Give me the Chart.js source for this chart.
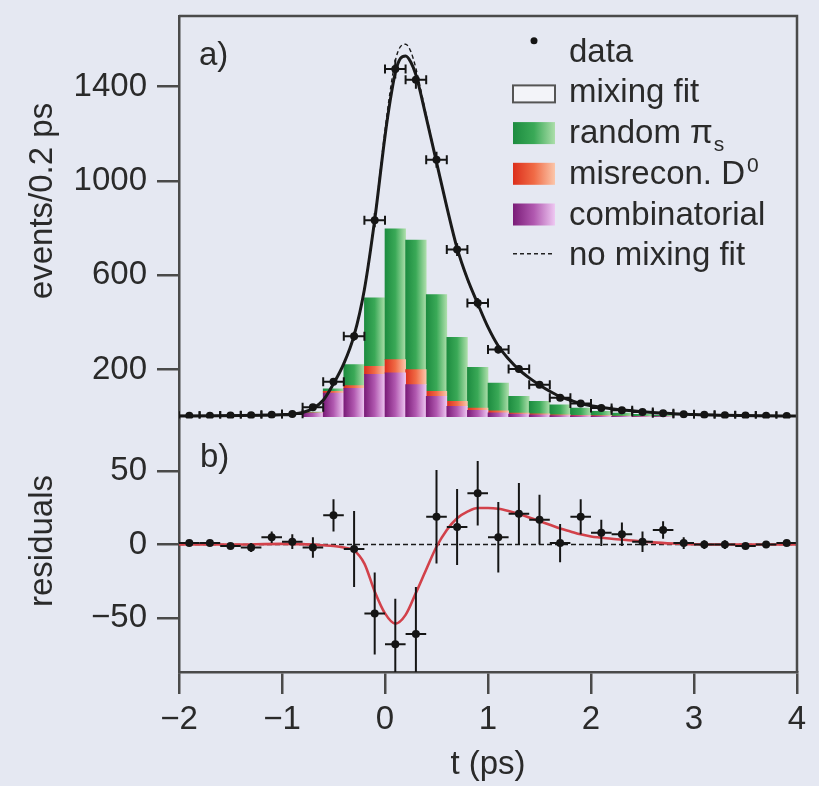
<!DOCTYPE html>
<html>
<head>
<meta charset="utf-8">
<title>Decay-time distribution and residuals</title>
<script src="https://cdn.jsdelivr.net/npm/chart.js@4.4.1/dist/chart.umd.min.js"></script>
<style>
  html, body { margin: 0; padding: 0; background: #e5e8f2; }
  #plot { display: block; }
</style>
</head>
<body>
<canvas id="plot" width="819" height="786"></canvas>
<script>
// ---- data -------------------------------------------------------------
const binWidth = 0.2;   // ps per bin

const binCentres = [-1.9,-1.7,-1.5,-1.3,-1.1,-0.9,-0.7,-0.5,-0.3,-0.1,0.1,0.3,0.5,0.7,0.9,
                    1.1,1.3,1.5,1.7,1.9,2.1,2.3,2.5,2.7,2.9,3.1,3.3,3.5,3.7,3.9];
const eventCounts = [4,4,5,6,8,12,40,148,341,834,1475,1430,1090,709,482,
                     285,203,136,80,56,37,28,20,15,11,8,6,5,4,3];
const eventErrors = [2,2,2,3,3,4,7,13,19,30,40,39,34,27,22,
                     17,14,12,9,8,6,5,5,4,3,3,3,2,2,2];
const residuals = [1,1,-1,-2,5,2,-2,20,-3,-47,-68,-61,19,12,35,
                   5,21,17,1,19,8,7,2,10,1,0,0,-1,0,1];
const residualErrors = [2,2,2,3,4,5,7,11,26,28,31,32,32,26,22,
                        24,21,17,13,12,9,8,7,6,4,3,3,2,2,2];

// background components (stacked)
const bkgCentres = [-0.7,-0.5,-0.3,-0.1,0.1,0.3,0.5,0.7,0.9,1.1,1.3,1.5,1.7,1.9,2.1,2.3,2.5,2.7];
const combinatorial = [15,100,120,180,186,136,87,44,27,17,11,8,5,4,3,2,1,1];
const misreconD0 = [2,8,12,34,56,64,21,21,10,8,5,4,3,2,2,1,1,0];
const randomPiS = [3,10,89,290,555,549,410,272,173,118,71,53,43,31,18,12,8,5];

// fit curves
const fitTimes = [-2,-1.6,-1.2,-1,-0.9,-0.8,-0.7,-0.6,-0.5,-0.4,-0.3,-0.2,-0.1,0,0.05,0.1,0.15,0.2,0.25,0.3,
                  0.4,0.5,0.6,0.7,0.8,0.9,1,1.1,1.2,1.3,1.4,1.5,1.6,1.7,1.8,1.9,2,2.2,2.4,2.6,2.8,3,3.3,3.6,4];
const mixingFit = [3,4,6,8,11,18,35,70,140,225,345,540,835,1190,1340,1460,1520,1530,1505,1450,
                   1270,1080,890,715,585,480,380,300,245,200,165,135,108,85,70,56,47,34,25,18,13,9,6,4,3];
const noMixingFit = [3,4,6,8,11,18,35,70,140,225,345,542,842,1215,1380,1510,1570,1580,1550,1478,
                     1280,1082,888,712,582,478,378,298,244,200,165,135,108,85,70,56,47,34,25,18,13,9,6,4,3];
const diffTimes = [-2,-1.5,-1,-0.8,-0.6,-0.5,-0.4,-0.3,-0.2,-0.1,0,0.1,0.2,0.3,0.4,0.5,0.6,0.7,0.8,0.9,
                   1,1.1,1.2,1.3,1.4,1.5,1.6,1.7,1.8,1.9,2,2.2,2.4,2.6,2.8,3,3.5,4];
const fitDifference = [0,0,0.5,0.3,-0.5,-1,-2,-4,-13,-32,-47,-54,-48,-33,-17,-1.5,10,18,22.5,25,
                       25,24.5,23,21,18.5,16,13.5,11,9,7,5.5,4,2.8,1.5,0.7,0.2,0,0];

// axis ticks
const timeTicks = [-2,-1,0,1,2,3,4];
const eventTicks = [200,600,1000,1400];
const residualTicks = [-50,0,50];

// ---- style ------------------------------------------------------------
const FONT = '"Liberation Sans", Arial, Helvetica, sans-serif';
const INK = '#2a2a2a';
const AXIS = '#4a4a4a';
const BG = '#e5e8f2';
const FS = 33;

const fills = {
  green:  ['#1d8c40', '#3aa957', '#acdeaa'],
  red:    ['#dc2f1c', '#f06b46', '#fbc6aa'],
  purple: ['#7a1c78', '#b159b0', '#eec8f2']
};

const pairs = (xs, ys) => xs.map((x, i) => ({ x, y: ys[i] }));
const minus = v => (v < 0 ? '\u2212' + Math.abs(v) : String(v));

function gradientFor(ctx, l, r, stops) {
  const g = ctx.createLinearGradient(l, 0, r, 0);
  g.addColorStop(0, stops[0]);
  g.addColorStop(0.5, stops[1]);
  g.addColorStop(1, stops[2]);
  return g;
}

function barFill(stops) {
  return (c) => {
    const chart = c.chart;
    if (!chart.chartArea || c.type !== 'data' || !c.raw) return stops[1];
    const xs = chart.scales.x;
    const l = xs.getPixelForValue(c.raw.x - binWidth / 2);
    const r = xs.getPixelForValue(c.raw.x + binWidth / 2);
    return gradientFor(chart.ctx, l, r, stops);
  };
}

// ---- plugins ----------------------------------------------------------
const paperPlugin = {
  id: 'paper',
  beforeDraw(chart) {
    const { ctx, width, height } = chart;
    ctx.save();
    ctx.fillStyle = BG;
    ctx.fillRect(0, 0, width, height);
    ctx.restore();
  }
};

const errorBarPlugin = {
  id: 'errorBars',
  afterDatasetsDraw(chart) {
    const { ctx, chartArea } = chart;
    const xs = chart.scales.x;
    chart.data.datasets.forEach((ds) => {
      if (!ds.yErr) return;
      const ys = chart.scales[ds.yAxisID];
      ctx.save();
      ctx.beginPath();
      ctx.rect(chartArea.left, ys.top, chartArea.right - chartArea.left, ys.bottom - ys.top);
      ctx.clip();
      ctx.strokeStyle = '#151515';
      ctx.lineWidth = 2;
      ds.data.forEach((p, i) => {
        const x0 = xs.getPixelForValue(p.x - binWidth / 2);
        const x1 = xs.getPixelForValue(p.x + binWidth / 2);
        const xc = xs.getPixelForValue(p.x);
        const yc = ys.getPixelForValue(p.y);
        const ya = ys.getPixelForValue(p.y + ds.yErr[i]);
        const yb = ys.getPixelForValue(p.y - ds.yErr[i]);
        ctx.beginPath();
        ctx.moveTo(x0, yc); ctx.lineTo(x1, yc);
        ctx.moveTo(xc, ya); ctx.lineTo(xc, yb);
        if (ds.cap) {
          ctx.moveTo(x0, yc - ds.cap); ctx.lineTo(x0, yc + ds.cap);
          ctx.moveTo(x1, yc - ds.cap); ctx.lineTo(x1, yc + ds.cap);
        }
        ctx.stroke();
      });
      ctx.restore();
    });
  }
};

const framePlugin = {
  id: 'frame',
  afterDraw(chart) {
    const { ctx, chartArea } = chart;
    const top = chart.scales.y;
    const bottom = chart.scales.y2;
    ctx.save();
    // top and right border of the plot box
    ctx.strokeStyle = AXIS;
    ctx.lineWidth = 2.5;
    ctx.beginPath();
    ctx.moveTo(chartArea.left, chartArea.top);
    ctx.lineTo(chartArea.right, chartArea.top);
    ctx.lineTo(chartArea.right, chartArea.bottom);
    ctx.stroke();

    ctx.fillStyle = INK;
    ctx.font = FS + 'px ' + FONT;
    ctx.textAlign = 'left';
    ctx.textBaseline = 'alphabetic';
    ctx.fillText('a)', chartArea.left + 20, top.top + 49);
    ctx.fillText('b)', chartArea.left + 21, bottom.top + 48);

    // axis titles
    ctx.textAlign = 'center';
    ctx.fillText('t (ps)', (chartArea.left + chartArea.right) / 2, 774);
    ctx.save();
    ctx.translate(52, 201);
    ctx.rotate(-Math.PI / 2);
    ctx.fillText('events/0.2 ps', 0, 0);
    ctx.restore();
    ctx.save();
    ctx.translate(52, 541);
    ctx.rotate(-Math.PI / 2);
    ctx.fillText('residuals', 0, 0);
    ctx.restore();
    ctx.restore();
  }
};

const legendPlugin = {
  id: 'panelLegend',
  afterDraw(chart) {
    const { ctx } = chart;
    const ds = chart.data.datasets;
    const byKey = k => ds.find(d => d.key === k);
    const symL = 513, symR = 555, textX = 569;
    const rowStep = 40.7, firstBase = 61.7;
    const rows = ['data', 'mixing', 'random', 'misrecon', 'combinatorial', 'nomixing'];
    ctx.save();
    ctx.font = FS + 'px ' + FONT;
    ctx.textBaseline = 'alphabetic';
    ctx.textAlign = 'left';
    rows.forEach((k, i) => {
      const d = byKey(k);
      const base = firstBase + i * rowStep;
      if (k === 'data') {
        ctx.fillStyle = '#151515';
        ctx.beginPath();
        ctx.arc((symL + symR) / 2, base - 21, 3.5, 0, Math.PI * 2);
        ctx.fill();
      } else if (k === 'mixing') {
        ctx.fillStyle = '#f3f4f9';
        ctx.strokeStyle = '#555';
        ctx.lineWidth = 2;
        ctx.fillRect(symL, base - 17, symR - symL, 17);
        ctx.strokeRect(symL, base - 17, symR - symL, 17);
      } else if (k === 'nomixing') {
        ctx.strokeStyle = '#222';
        ctx.lineWidth = 1.6;
        ctx.setLineDash([4, 3]);
        ctx.beginPath();
        ctx.moveTo(symL, base - 11.5);
        ctx.lineTo(symR, base - 11.5);
        ctx.stroke();
        ctx.setLineDash([]);
      } else {
        ctx.fillStyle = gradientFor(ctx, symL, symR, d.stops);
        ctx.fillRect(symL, base - 21, symR - symL, 22);
      }
      ctx.fillStyle = INK;
      ctx.font = FS + 'px ' + FONT;
      ctx.fillText(d.label, textX, base);
      const w = ctx.measureText(d.label).width;
      if (d.sub) {
        ctx.font = '21px ' + FONT;
        ctx.fillText(d.sub, textX + w + 1, base + 8);
      }
      if (d.sup) {
        ctx.font = '21px ' + FONT;
        ctx.fillText(d.sup, textX + w + 2, base - 12);
      }
    });
    ctx.restore();
  }
};

// ---- chart ------------------------------------------------------------
const tickFont = { family: FONT, size: FS };

function zeroPad(scale) {
  scale.paddingTop = 0; scale.paddingBottom = 0;
  scale.paddingLeft = 0; scale.paddingRight = 0;
}

new Chart(document.getElementById('plot'), {
  type: 'scatter',
  data: {
    datasets: [
      {
        key: 'data', label: 'data', type: 'scatter', yAxisID: 'y', stack: 'pts',
        data: pairs(binCentres, eventCounts), yErr: eventErrors, cap: 4.5,
        pointRadius: 4, pointBackgroundColor: '#151515', pointBorderWidth: 0
      },
      {
        key: 'resid', label: 'residuals', type: 'scatter', yAxisID: 'y2',
        data: pairs(binCentres, residuals), yErr: residualErrors,
        pointRadius: 4, pointBackgroundColor: '#151515', pointBorderWidth: 0
      },
      {
        key: 'mixing', label: 'mixing fit', type: 'line', yAxisID: 'y', stack: 'mix',
        data: pairs(fitTimes, mixingFit), borderColor: '#1a1a1a', borderWidth: 3,
        pointRadius: 0, cubicInterpolationMode: 'monotone', fill: false
      },
      {
        key: 'nomixing', label: 'no mixing fit', type: 'line', yAxisID: 'y', stack: 'nomix',
        data: pairs(fitTimes, noMixingFit), borderColor: '#1a1a1a', borderWidth: 1.4,
        borderDash: [4, 3], pointRadius: 0, cubicInterpolationMode: 'monotone', fill: false
      },
      {
        key: 'diff', label: 'mixing − no mixing', type: 'line', yAxisID: 'y2',
        data: pairs(diffTimes, fitDifference), borderColor: '#d2414a', borderWidth: 2.6,
        pointRadius: 0, cubicInterpolationMode: 'monotone', fill: false
      },
      {
        key: 'zero', label: 'no mixing', type: 'line', yAxisID: 'y2',
        data: pairs([-2, 4], [0, 0]), borderColor: '#1a1a1a', borderWidth: 1.4,
        borderDash: [5, 3], pointRadius: 0, fill: false
      },
      {
        key: 'combinatorial', label: 'combinatorial', type: 'bar', yAxisID: 'y', stack: 'bkg',
        data: pairs(bkgCentres, combinatorial), stops: fills.purple,
        backgroundColor: barFill(fills.purple), borderWidth: 0,
        barPercentage: 1, categoryPercentage: 1
      },
      {
        key: 'misrecon', label: 'misrecon. D', sup: '0', type: 'bar', yAxisID: 'y', stack: 'bkg',
        data: pairs(bkgCentres, misreconD0), stops: fills.red,
        backgroundColor: barFill(fills.red), borderWidth: 0,
        barPercentage: 1, categoryPercentage: 1
      },
      {
        key: 'random', label: 'random \u03c0', sub: 's', type: 'bar', yAxisID: 'y', stack: 'bkg',
        data: pairs(bkgCentres, randomPiS), stops: fills.green,
        backgroundColor: barFill(fills.green), borderWidth: 0,
        barPercentage: 1, categoryPercentage: 1
      }
    ]
  },
  options: {
    responsive: false,
    devicePixelRatio: 1,
    animation: false,
    events: [],
    layout: { padding: { top: 16, right: 22, bottom: 0, left: 0 } },
    plugins: { legend: { display: false }, tooltip: { enabled: false } },
    scales: {
      x: {
        type: 'linear', position: 'bottom', min: -2, max: 4, offset: false,
        afterBuildTicks: s => { s.ticks = timeTicks.map(v => ({ value: v })); },
        afterFit: s => { s.height = 114; zeroPad(s); },
        ticks: { font: tickFont, color: INK, padding: 6, maxRotation: 0, autoSkip: false,
                 callback: v => minus(v) },
        grid: { drawOnChartArea: false, drawTicks: true, tickLength: 22, color: AXIS,
                lineWidth: 2.5, offset: false },
        border: { display: true, color: AXIS, width: 2.5 }
      },
      y: {
        type: 'linear', position: 'left', stack: 'panels', stackWeight: 402, weight: 2,
        stacked: true, min: -8, max: 1700,
        afterBuildTicks: s => { s.ticks = eventTicks.map(v => ({ value: v })); },
        afterFit: s => { s.width = 179; zeroPad(s); },
        ticks: { font: tickFont, color: INK, padding: 10, callback: v => minus(v) },
        grid: { drawOnChartArea: false, drawTicks: true, tickLength: 22, color: AXIS, lineWidth: 2.5 },
        border: { display: true, color: AXIS, width: 2.5 }
      },
      y2: {
        type: 'linear', position: 'left', stack: 'panels', stackWeight: 253, weight: 1,
        min: -87, max: 86,
        afterBuildTicks: s => { s.ticks = residualTicks.map(v => ({ value: v })); },
        afterFit: s => { s.width = 179; zeroPad(s); },
        ticks: { font: tickFont, color: INK, padding: 10, callback: v => minus(v) },
        grid: { drawOnChartArea: false, drawTicks: true, tickLength: 22, color: AXIS, lineWidth: 2.5 },
        border: { display: true, color: AXIS, width: 2.5 }
      }
    }
  },
  plugins: [paperPlugin, errorBarPlugin, framePlugin, legendPlugin]
});
</script>
</body>
</html>
